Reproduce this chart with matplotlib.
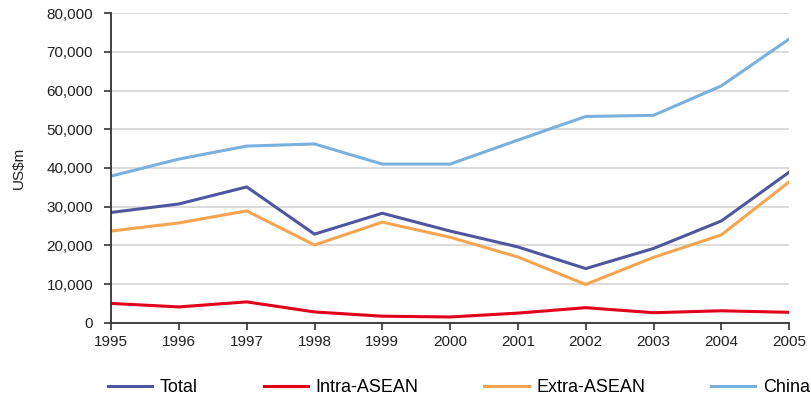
import numpy as np
import matplotlib.pyplot as plt
from matplotlib.ticker import FuncFormatter

plt.rcParams['font.family'] = ['Liberation Sans', 'DejaVu Sans']

years = np.arange(1995, 2006)
total = [28500, 30700, 35100, 22900, 28300, 23700, 19600, 14000, 19200, 26300, 38900]
intra = [5000, 4100, 5400, 2800, 1700, 1500, 2500, 3900, 2600, 3100, 2700]
extra = [23700, 25800, 28900, 20100, 26000, 22100, 17000, 9900, 16900, 22700, 36400]
china = [37900, 42300, 45650, 46200, 41000, 41000, 47200, 53300, 53600, 61200, 73300]

fig = plt.figure(figsize=(8.11, 3.98), dpi=100)
ax = fig.add_axes([0.137, 0.189, 0.836, 0.778])

lw = 2.2
ax.plot(years, total, color='#5055a0', lw=lw, label='Total')
ax.plot(years, intra, color='#e3001b', lw=lw, label='Intra-ASEAN')
ax.plot(years, extra, color='#f5a550', lw=lw, label='Extra-ASEAN')
ax.plot(years, china, color='#7ab0dd', lw=lw, label='China')

ax.set_xlim(1995, 2005)
ax.set_ylim(0, 80000)
ax.set_xticks(years)
ax.set_yticks(np.arange(0, 80001, 10000))
ax.yaxis.set_major_formatter(FuncFormatter(lambda v, p: f'{int(v):,}'))

ax.grid(axis='y', color='#d9d9d9', lw=1.3)
ax.set_axisbelow(True)
for s in ['top', 'right']:
    ax.spines[s].set_visible(False)
for s in ['left', 'bottom']:
    ax.spines[s].set_color('#333333')
    ax.spines[s].set_linewidth(1.3)
ax.tick_params(axis='both', colors='#333333', labelcolor='#222222',
               labelsize=11, length=5, width=1.2)
ax.tick_params(axis='y', pad=8)
ax.tick_params(axis='x', pad=4)

ax.set_ylabel('US$m', fontsize=11, color='#222222', labelpad=15)

fig.legend(loc='center left', bbox_to_anchor=(108 / 811, 1 - 388 / 398),
           ncol=4, frameon=False, fontsize=13, borderpad=0, borderaxespad=0,
           handlelength=2.45, handletextpad=0.42, columnspacing=3.65)

fig.savefig('out.png', dpi=100)
